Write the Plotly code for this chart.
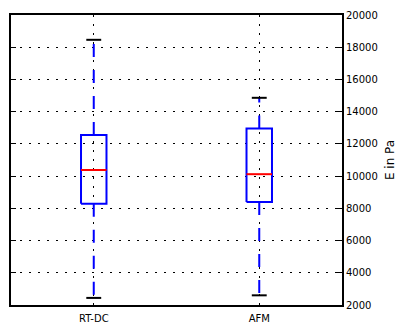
import plotly.graph_objects as go

categories = ["RT-DC", "AFM"]
lower_cap = [2440, 2600]
q1 = [8290, 8400]
median = [10380, 10120]
q3 = [12550, 12960]
upper_cap = [18460, 14860]
y_ticks = [2000, 4000, 6000, 8000, 10000, 12000, 14000, 16000, 18000, 20000]
y_tick_labels = [str(v) for v in y_ticks]

positions = [1, 2]
box_hw = 0.077
cap_hw = 0.045

fig = go.Figure()
for i, p in enumerate(positions):
    # whiskers
    fig.add_trace(go.Scatter(x=[p, p], y=[q3[i], upper_cap[i]], mode="lines",
                             line=dict(color="#0000ff", width=2, dash="13px,13px"),
                             hoverinfo="skip", showlegend=False))
    fig.add_trace(go.Scatter(x=[p, p], y=[q1[i], lower_cap[i]], mode="lines",
                             line=dict(color="#0000ff", width=2, dash="13px,13px"),
                             hoverinfo="skip", showlegend=False))
    # caps
    for v in (upper_cap[i], lower_cap[i]):
        fig.add_trace(go.Scatter(x=[p - cap_hw, p + cap_hw], y=[v, v], mode="lines",
                                 line=dict(color="black", width=2),
                                 hoverinfo="skip", showlegend=False))
    # box
    fig.add_trace(go.Scatter(x=[p - box_hw, p + box_hw, p + box_hw, p - box_hw, p - box_hw],
                             y=[q1[i], q1[i], q3[i], q3[i], q1[i]], mode="lines",
                             line=dict(color="#0000ff", width=2),
                             hoverinfo="skip", showlegend=False))
    # median
    fig.add_trace(go.Scatter(x=[p - box_hw, p + box_hw], y=[median[i], median[i]], mode="lines",
                             line=dict(color="#ff0000", width=2),
                             hoverinfo="skip", showlegend=False))

fig.update_layout(
    width=398, height=317,
    margin=dict(l=1, r=64, t=5, b=19),
    paper_bgcolor="white", plot_bgcolor="white",
    font=dict(family="DejaVu Sans", size=10, color="black"),
    showlegend=False,
    xaxis=dict(range=[0.5, 2.5], tickvals=positions, ticktext=categories,
               showgrid=True, gridcolor="black", gridwidth=1, griddash="2px,7px",
               showline=True, linecolor="black", linewidth=2, mirror=True,
               ticks="", ticklabelstandoff=3, ticklabeloverflow="allow",
               zeroline=False, fixedrange=True),
    yaxis=dict(range=[2000, 20000], tickvals=y_ticks, ticktext=y_tick_labels, side="right",
               showgrid=True, gridcolor="black", gridwidth=1, griddash="2px,7px",
               showline=True, linecolor="black", linewidth=2, mirror="ticks",
               ticks="inside", ticklen=5, tickcolor="black",
               ticklabeloverflow="allow",
               zeroline=False, fixedrange=True,
               title=dict(text="E in Pa", standoff=9)),
)

fig.write_html("out.html", config={"displayModeBar": False})
